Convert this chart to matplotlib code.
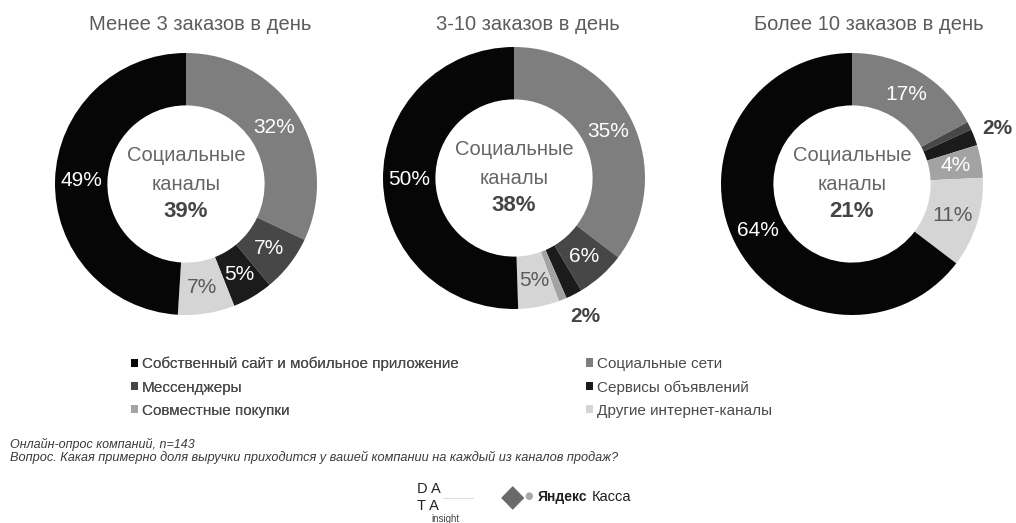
import numpy as np
import matplotlib.pyplot as plt
from matplotlib.patches import Patch

# categories in pie order (clockwise from 12 o'clock)
categories = ["Социальные сети", "Мессенджеры", "Сервисы объявлений",
              "Совместные покупки", "Другие интернет-каналы",
              "Собственный сайт и мобильное приложение"]
colors = ["#7e7e7e", "#474747", "#1b1b1b", "#a3a3a3", "#d5d5d5", "#060606"]

titles = ["Менее 3 заказов в день", "3-10 заказов в день", "Более 10 заказов в день"]
shares_lt3 = [32, 7, 5, 0, 7, 49]
shares_3_10 = [35, 6, 2, 1, 5, 50]
shares_gt10 = [17, 1, 2, 4, 11, 64]
social_total = [39, 38, 21]

# which slice gets a label: 'in' inside ring, 'out' outside bold, None no label
label_mode = [
    ["in", "in", "in", None, "in", "in"],
    ["in", "in", "out", None, "in", "in"],
    ["in", None, "out", "in", "in", "in"],
]
# light slices get grey text
dark_text = {4}

legend_left = [5, 1, 3]
legend_right = [0, 2, 4]

plt.rcParams['font.family'] = ['Liberation Sans', 'DejaVu Sans']

W, H = 1016, 523
fig = plt.figure(figsize=(W / 100, H / 100), dpi=100)

centers = [(186, 184), (514, 178), (852, 184)]
title_x = [200, 528, 869]
R = 131

for k, data in enumerate([shares_lt3, shares_3_10, shares_gt10]):
    cx, cy = centers[k]
    ax = fig.add_axes([(cx - R) / W, 1 - (cy + R) / H, 2 * R / W, 2 * R / H])
    wedges, _ = ax.pie(data, colors=colors, startangle=90, counterclock=False,
                       radius=1.0, wedgeprops=dict(width=0.4, edgecolor="none"))
    ax.set_xlim(-1, 1)
    ax.set_ylim(-1, 1)
    ax.set_aspect("equal")
    ax.axis("off")
    for i, w in enumerate(wedges):
        mode = label_mode[k][i]
        if mode is None:
            continue
        ang = np.deg2rad((w.theta1 + w.theta2) / 2)
        if mode == "in":
            r = 0.8
            col = "#5a5a5a" if i in dark_text else "white"
            ax.text(r * np.cos(ang), r * np.sin(ang), f"{data[i]}%", ha="center",
                    va="center", fontsize=15, color=col, clip_on=False)
        else:
            r = 1.19
            ax.text(r * np.cos(ang), r * np.sin(ang), f"{data[i]}%", ha="center",
                    va="center", fontsize=15, color="#444444",
                    fontweight="bold", clip_on=False)
    ax.text(0, 0.22, "Социальные", ha="center", va="center", fontsize=14.5, color="#666666")
    ax.text(0, 0.0, "каналы", ha="center", va="center", fontsize=14.5, color="#666666")
    ax.text(0, -0.21, f"{social_total[k]}%", ha="center", va="center", fontsize=16,
            color="#454545", fontweight="bold")
    fig.text(title_x[k] / W, 1 - 25 / H, titles[k], ha="center", va="center",
             fontsize=14.5, color="#5c5c5c")


def make_leg(idx, x, y):
    handles = [Patch(facecolor=colors[i], edgecolor="none") for i in idx]
    labels = [categories[i] for i in idx]
    return fig.legend(handles, labels, loc="upper left", bbox_to_anchor=(x / W, 1 - y / H),
                      frameon=False, handlelength=0.45, handleheight=0.45,
                      handletextpad=0.25, labelspacing=0.6, borderpad=0, borderaxespad=0,
                      prop=dict(size=11), labelcolor="#4a4a4a")


leg1 = make_leg(legend_left, 131, 357)
fig.add_artist(leg1)
make_leg(legend_right, 586, 357)

# footnote
fig.text(10 / W, 1 - 444 / H, "Онлайн-опрос компаний, n=143", ha="left", va="center",
         fontsize=9, style="italic", color="#3a3a3a")
fig.text(10 / W, 1 - 457 / H,
         "Вопрос. Какая примерно доля выручки приходится у вашей компании на каждый из каналов продаж?",
         ha="left", va="center", fontsize=9.2, style="italic", color="#3a3a3a")

# logos
fig.text(417 / W, 1 - 489 / H, "D A", ha="left", va="center", fontsize=10.5, color="#222222")
fig.text(417 / W, 1 - 506 / H, "T A", ha="left", va="center", fontsize=10.5, color="#222222")
fig.add_artist(plt.Line2D([443 / W, 473 / W], [1 - 498 / H, 1 - 498 / H], color="#dddddd", lw=0.8))
fig.text(431 / W, 1 - 519 / H, "insight", ha="left", va="center", fontsize=7, color="#444444")
fig.text(513 / W, 1 - 498 / H, "◆", ha="center", va="center", fontsize=22, color="#6a6a6a",
         family="DejaVu Sans")
fig.text(529 / W, 1 - 496 / H, "●", ha="center", va="center", fontsize=7, color="#a8a8a8",
         family="DejaVu Sans")
fig.text(538 / W, 1 - 497 / H, "Яндекс", ha="left", va="center", fontsize=10,
         fontweight="bold", color="#1e1e1e")
fig.text(592 / W, 1 - 497 / H, "Касса", ha="left", va="center", fontsize=10.5,
         color="#1e1e1e")

fig.savefig("out.png", dpi=100, facecolor="white")
